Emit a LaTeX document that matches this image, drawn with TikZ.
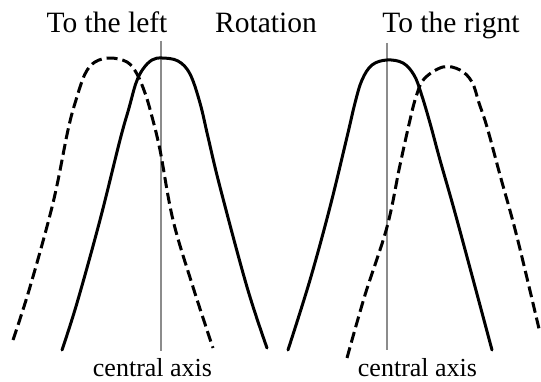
\documentclass[tikz,border=0pt]{standalone}
\usepackage{fontspec}
\setmainfont{Liberation Serif}
\begin{document}
\begin{tikzpicture}[x=1pt,y=-1pt,
  axisline/.style={draw=black!45,line width=2.2pt},
  solidcurve/.style={draw=black,line width=3pt,line cap=round,line join=round},
  dashcurve/.style={draw=black,line width=3pt,dash pattern=on 11pt off 5pt,line join=round},
  titletext/.style={anchor=base,inner sep=0pt,font=\fontsize{29.5}{34}\selectfont},
  axistext/.style={anchor=base,inner sep=0pt,font=\fontsize{26}{30}\selectfont}]
\useasboundingbox (0,0) rectangle (541,382);
\fill[white] (0,0) rectangle (541,382);
% titles
\node[titletext] (tl) at (107,33) {To the left};
\node[titletext] (rot) at (266,33) {Rotation};
\node[titletext] (tr) at (451,33) {To the rignt};
% axes
\coordinate (a1t) at (161,41);
\coordinate (a1b) at (161,351);
\coordinate (a2t) at (387,43);
\coordinate (a2b) at (387,350);
\draw[axisline] (a1t) -- (a1b);
\draw[axisline] (a2t) -- (a2b);
% left figure: dashed
\draw[dashcurve] plot[smooth,tension=0.6] coordinates {(13,340) (30,287) (53,203) (68,130) (76,100) (85,74) (95,62) (110,58) (127,62) (137,74) (145,93) (151,113) (160,150) (173,220) (193,287) (213,348)};
% left figure: solid
\draw[solidcurve] plot[smooth,tension=0.6] coordinates {(62,350) (77,303) (100,220) (120,140) (129,108) (136,83) (143,69) (152,60) (162,58) (178,61) (190,74) (200,103) (208,137) (220,187) (247,287) (267,348)};
% right figure: solid
\draw[solidcurve] plot[smooth,tension=0.6] coordinates {(288,350) (310,280) (330,207) (347,137) (355,103) (362,80) (372,65) (387,60) (403,63) (414,75) (421,93) (430,123) (440,160) (457,220) (492,350)};
% right figure: dashed
\draw[dashcurve] plot[smooth,tension=0.6] coordinates {(347,358) (365,295) (387,227) (400,165) (410,120) (416,97) (424,79) (443,67) (460,70) (472,82) (479,103) (487,127) (500,175) (517,237) (540,333)};
% axis labels
\node[axistext] (c1) at (152.5,376) {central axis};
\node[axistext] (c2) at (417.5,376) {central axis};
\end{tikzpicture}
\end{document}
